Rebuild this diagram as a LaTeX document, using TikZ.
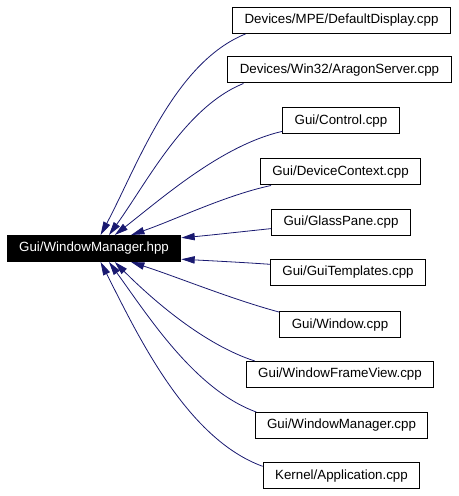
\documentclass[tikz,border=0pt]{standalone}
\usepackage{fontspec}
\setmainfont{Liberation Sans}
\usetikzlibrary{arrows.meta}
\definecolor{navy}{RGB}{25,25,112}
\tikzset{
  file/.style={draw=black, line width=0.75pt, fill=white, inner xsep=9pt, inner ysep=0pt,
    minimum height=19.5pt, font=\fontsize{10}{12}\selectfont},
  focus/.style={file, fill=black, text=white},
  incl/.style={draw=navy, line width=0.6pt, -{Triangle[length=10pt,width=5.5pt]}, looseness=0.8}
}

\begin{document}
\begin{tikzpicture}[x=0.75pt, y=0.75pt]
    \useasboundingbox (0,0) rectangle (459,496);
    \node[focus] (root) at (94,247.5) {Gui/WindowManager.hpp};
    % eingebundene Dateien
    \node[file] (b1) at (341.5,475.5) {Devices/MPE/DefaultDisplay.cpp};
    \node[file] (b2) at (339.5,426) {Devices/Win32/AragonServer.cpp};
    \node[file] (b3) at (341,375) {Gui/Control.cpp};
    \node[file] (b4) at (340.5,324) {Gui/DeviceContext.cpp};
    \node[file] (b5) at (341,273.5) {Gui/GlassPane.cpp};
    \node[file] (b6) at (348,223.5) {Gui/GuiTemplates.cpp};
    \node[file] (b7) at (340,171) {Gui/Window.cpp};
    \node[file] (b8) at (340,121.5) {Gui/WindowFrameView.cpp};
    \node[file] (b9) at (341.5,70.5) {Gui/WindowManager.cpp};
    \node[file] (b10) at (341.5,20) {Kernel/Application.cpp};
    % Abhaengigkeiten
    \draw[incl] (b1.188) to[out=202, in=62] (root.64);
    \draw[incl] (b2.188) to[out=202, in=54] (root.42);
    \draw[incl] (b3.190) to[out=193, in=38] (root.33);
    \draw[incl] (b4.191) to[out=192, in=19] (root.20);
    \draw[incl] (b5.185) to[out=186, in=5] (root.7);
    \draw[incl] (b6.174) to[out=176, in=-3] (root.-7);
    \draw[incl] (b7.168) to[out=165, in=-18] (root.-20);
    \draw[incl] (b8.171) to[out=162, in=-45] (root.-33);
    \draw[incl] (b9.171) to[out=160, in=-54] (root.-42);
    \draw[incl] (b10.173) to[out=160, in=-63] (root.-64);
\end{tikzpicture}
\end{document}
